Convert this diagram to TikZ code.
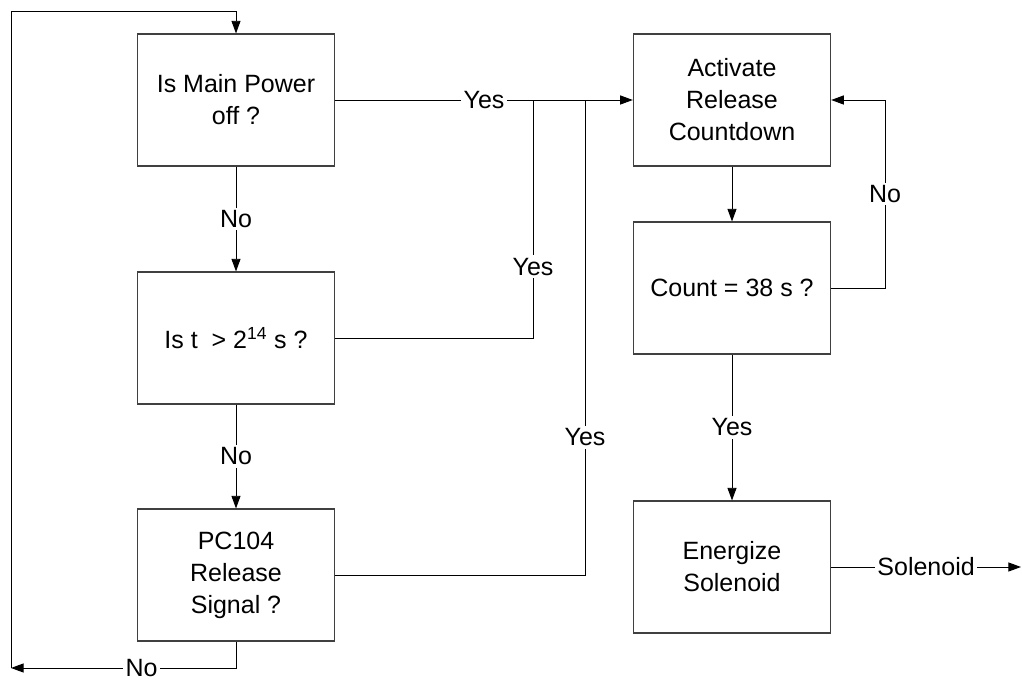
\documentclass[tikz,border=0pt]{standalone}
\usepackage{fontspec}
\setmainfont{Liberation Sans}
\usetikzlibrary{arrows.meta,positioning,calc}

\begin{document}
\begin{tikzpicture}[
    x=0.75pt, y=-0.75pt,
    >={Triangle[length=9.5pt, width=6.8pt]},
    every node/.style={font=\fontsize{18.75}{24}\selectfont},
    step box/.style={draw=black!75, line width=0.8pt, minimum width=148pt, minimum height=99pt, align=center, inner sep=0pt},
    flow line/.style={line width=0.7pt},
    line label/.style={fill=white, inner sep=2pt},
]

\useasboundingbox (0,0) rectangle (1022,680);

% Left column: checks
\node[step box] (power) at (236,100) {Is Main Power\\off ?};
\node[step box] (timer) at (236,338) {Is t\ \ > 2\textsuperscript{14} s ?};
\node[step box] (pcsig) at (236,575) {PC104\\Release\\Signal ?};

% Right column: countdown
\node[step box] (countdown) at (732,100) {Activate\\Release\\Countdown};
\node[step box] (count) at (732,288) {Count = 38 s ?};
\node[step box] (energize) at (732,567) {Energize\\Solenoid};

% Helper points
\coordinate (bus1) at (533,100);
\coordinate (bus2) at (585,100);
\coordinate (loopbl) at (11,668);
\coordinate (looptl) at (11,11);
\coordinate (cntr) at (885,288);
\coordinate (outend) at (1021,567);

% Down the checks
\draw[flow line,->] (power) -- node[line label] {No} (timer);
\draw[flow line,->] (timer) -- node[line label] {No} (pcsig);

% Yes branches into countdown
\draw[flow line,->] (power.east) -- node[line label] {Yes} (countdown.west);
\draw[flow line] (timer.east) -| node[line label, pos=0.65] {Yes} (bus1);
\draw[flow line] (pcsig.east) -| node[line label, pos=0.645] {Yes} (bus2);

% No loop back to start
\draw[flow line,->] (pcsig.south) |- node[line label, pos=0.71] {No} (loopbl);
\draw[flow line,->] (loopbl) -- (looptl) -| (power.north);

% Countdown loop
\draw[flow line,->] (countdown) -- (count);
\draw[flow line,->] (count.east) -- (cntr) |- node[line label, pos=0.25] {No} (countdown.east);
\draw[flow line,->] (count) -- node[line label] {Yes} (energize);

% Output
\draw[flow line,->] (energize.east) -- node[line label] {Solenoid} (outend);

\end{tikzpicture}
\end{document}
